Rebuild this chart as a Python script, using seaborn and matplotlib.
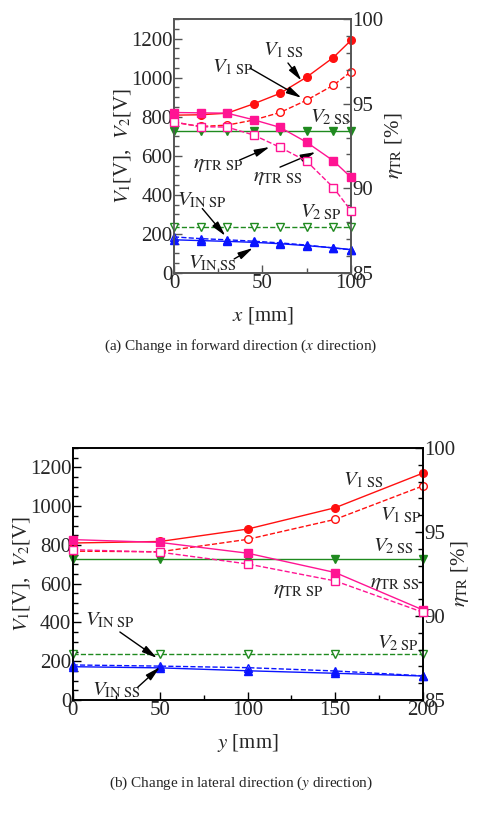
import numpy as np
import matplotlib
matplotlib.use('Agg')
import matplotlib.pyplot as plt
import seaborn as sns

# (a) forward direction, x [mm]
x_pos = [0, 15, 30, 45, 60, 75, 90, 100]
a_v1_ss = [808, 810, 818, 866, 920, 1003, 1103, 1191]
a_v1_sp = [772, 750, 757, 783, 822, 885, 961, 1030]
a_v2_ss = [725, 725, 725, 725, 725, 725, 725, 725]
a_v2_sp = [235, 235, 235, 235, 235, 235, 235, 235]
a_vin_ss = [170, 166, 162, 157, 150, 140, 129, 120]
a_vin_sp = [185, 176, 170, 163, 154, 143, 128, 119]
a_eta_ss = [94.48, 94.46, 94.44, 94.05, 93.6, 92.72, 91.63, 90.65]
a_eta_sp = [93.92, 93.64, 93.62, 93.15, 92.42, 91.6, 90.05, 88.68]

# (b) lateral direction, y [mm]
y_pos = [0, 50, 100, 150, 200]
b_v1_ss = [810, 818, 882, 992, 1170]
b_v1_sp = [768, 765, 829, 932, 1104]
b_v2_ss = [726, 726, 726, 726, 726]
b_v2_sp = [237, 237, 237, 237, 237]
b_vin_ss = [172, 166, 151, 138, 124]
b_vin_sp = [181, 175, 167, 150, 125]
b_eta_ss = [94.55, 94.38, 93.74, 92.59, 90.37]
b_eta_sp = [93.95, 93.8, 93.1, 92.09, 90.23]

sns.set_style('ticks')
plt.rcParams['font.family'] = ['Liberation Serif', 'DejaVu Serif']
plt.rcParams['mathtext.fontset'] = 'stix'
plt.rcParams['xtick.direction'] = 'in'
plt.rcParams['ytick.direction'] = 'in'

RED = '#ff1010'
PINK = '#ff1493'
GREEN = '#1f8a1f'
BLUE = '#0a14ff'
FS = 15


def series(ax, xs, ys, color, marker, filled, dashed, ms=5.5):
    sns.lineplot(x=xs, y=ys, ax=ax, color=color, lw=1.0,
                 linestyle='--' if dashed else '-', marker=marker, markersize=ms,
                 markerfacecolor=color if filled else 'white',
                 markeredgecolor=color, markeredgewidth=1.0, errorbar=None,
                 clip_on=False, zorder=3)


def setup(ax, ax2, xmax, edge):
    ax.set_xlim(0, xmax)
    ax.set_ylim(0, 1300)
    ax2.set_ylim(85, 100)
    ax.set_xticks(np.arange(0, xmax + 1, 50))
    ax.set_xticks(np.arange(0, xmax + 1, 25), minor=True)
    ax.set_yticks(np.arange(0, 1201, 200))
    ax.set_yticks(np.arange(0, 1301, 50), minor=True)
    ax2.set_yticks([85, 90, 95, 100])
    ax2.set_yticks(np.arange(85, 101, 1), minor=True)
    for a in (ax, ax2):
        for s in a.spines.values():
            s.set_color(edge)
            s.set_linewidth(1.2)
        a.tick_params(which='major', length=6, width=1, color=edge, labelsize=FS, pad=1)
        a.tick_params(which='minor', length=3.5, width=1, color=edge)
    ax.set_ylabel('$V_1$[V],  $V_2$[V]', fontsize=FS)
    ax2.set_ylabel(r'$\eta_{\rm TR}$ [%]', fontsize=FS)


def arrow(ax, start, end):
    ax.annotate('', xy=end, xytext=start,
                arrowprops=dict(arrowstyle='-|>,head_length=0.9,head_width=0.22',
                                color='k', lw=1.0, shrinkA=0, shrinkB=0))


fig = plt.figure(figsize=(4.81, 8.14), dpi=100)

# ---- (a) ----
ax = fig.add_axes([0.3617, 0.6646, 0.368, 0.312])
ax2 = ax.twinx()
series(ax, x_pos, a_v2_ss, GREEN, 'v', True, False)
series(ax, x_pos, a_v2_sp, GREEN, 'v', False, True)
series(ax, x_pos, a_vin_sp, BLUE, '^', False, True)
series(ax, x_pos, a_vin_ss, BLUE, '^', True, False)
series(ax, x_pos, a_v1_ss, RED, 'o', True, False)
series(ax, x_pos, a_v1_sp, RED, 'o', False, True)
series(ax2, x_pos, a_eta_ss, PINK, 's', True, False)
series(ax2, x_pos, a_eta_sp, PINK, 's', False, True)
setup(ax, ax2, 100, '#555555')
ax.set_xlabel('$x$ [mm]', fontsize=FS, labelpad=8)
ax.yaxis.set_label_coords(-0.232, 0.5)
ax2.yaxis.set_label_coords(1.18, 0.5)

ax.text(50.3, 1116, r'$V_{\rm 1\ SS}$', fontsize=FS)
arrow(ax, (64.4, 1075), (72, 985))
ax.text(21.5, 1029, r'$V_{\rm 1\ SP}$', fontsize=FS)
arrow(ax, (42.9, 1049), (72, 897))
ax.text(76.8, 773, r'$V_{\rm 2\ SS}$', fontsize=FS)
ax.text(10.7, 537, r'$\eta_{\rm TR\ SP}$', fontsize=FS)
arrow(ax, (37, 578), (54, 645))
ax.text(44.6, 471, r'$\eta_{\rm TR\ SS}$', fontsize=FS)
arrow(ax, (59.9, 542), (80, 619))
ax.text(1.7, 348, r'$V_{\rm IN\ SP}$', fontsize=FS)
arrow(ax, (16, 330), (29, 190))
ax.text(71.2, 287, r'$V_{\rm 2\ SP}$', fontsize=FS)
ax.text(7.9, 26, r'$V_{\rm IN\ SS}$', fontsize=FS)
arrow(ax, (34, 72), (44.6, 128))

fig.text(0.5, 0.574, '(a) Change in forward direction ($x$ direction)',
         ha='center', va='center', fontsize=11)

# ---- (b) ----
bx = fig.add_axes([0.151, 0.140, 0.7277, 0.3096])
bx2 = bx.twinx()
series(bx, y_pos, b_v2_ss, GREEN, 'v', True, False)
series(bx, y_pos, b_v2_sp, GREEN, 'v', False, True)
series(bx, y_pos, b_vin_sp, BLUE, '^', False, True)
series(bx, y_pos, b_vin_ss, BLUE, '^', True, False)
series(bx, y_pos, b_v1_ss, RED, 'o', True, False)
series(bx, y_pos, b_v1_sp, RED, 'o', False, True)
series(bx2, y_pos, b_eta_ss, PINK, 's', True, False)
series(bx2, y_pos, b_eta_sp, PINK, 's', False, True)
setup(bx, bx2, 200, 'black')
bx.set_xlabel('$y$ [mm]', fontsize=FS, labelpad=8)
bx.yaxis.set_label_coords(-0.116, 0.5)
bx2.yaxis.set_label_coords(1.075, 0.5)

bx.text(154.5, 1109, r'$V_{\rm 1\ SS}$', fontsize=FS)
bx.text(175.6, 929, r'$V_{\rm 1\ SP}$', fontsize=FS)
bx.text(171.6, 769, r'$V_{\rm 2\ SS}$', fontsize=FS)
bx.text(169.9, 583, r'$\eta_{\rm TR\ SS}$', fontsize=FS)
bx.text(114.5, 547, r'$\eta_{\rm TR\ SP}$', fontsize=FS)
bx.text(7, 387, r'$V_{\rm IN\ SP}$', fontsize=FS)
arrow(bx, (27, 351), (48.2, 217))
bx.text(173.9, 268, r'$V_{\rm 2\ SP}$', fontsize=FS)
bx.text(11, 26, r'$V_{\rm IN\ SS}$', fontsize=FS)
arrow(bx, (37.3, 67), (49.9, 170))

fig.text(0.5, 0.038, '(b) Change in lateral direction ($y$ direction)',
         ha='center', va='center', fontsize=11)

fig.savefig('out.png', dpi=100)
